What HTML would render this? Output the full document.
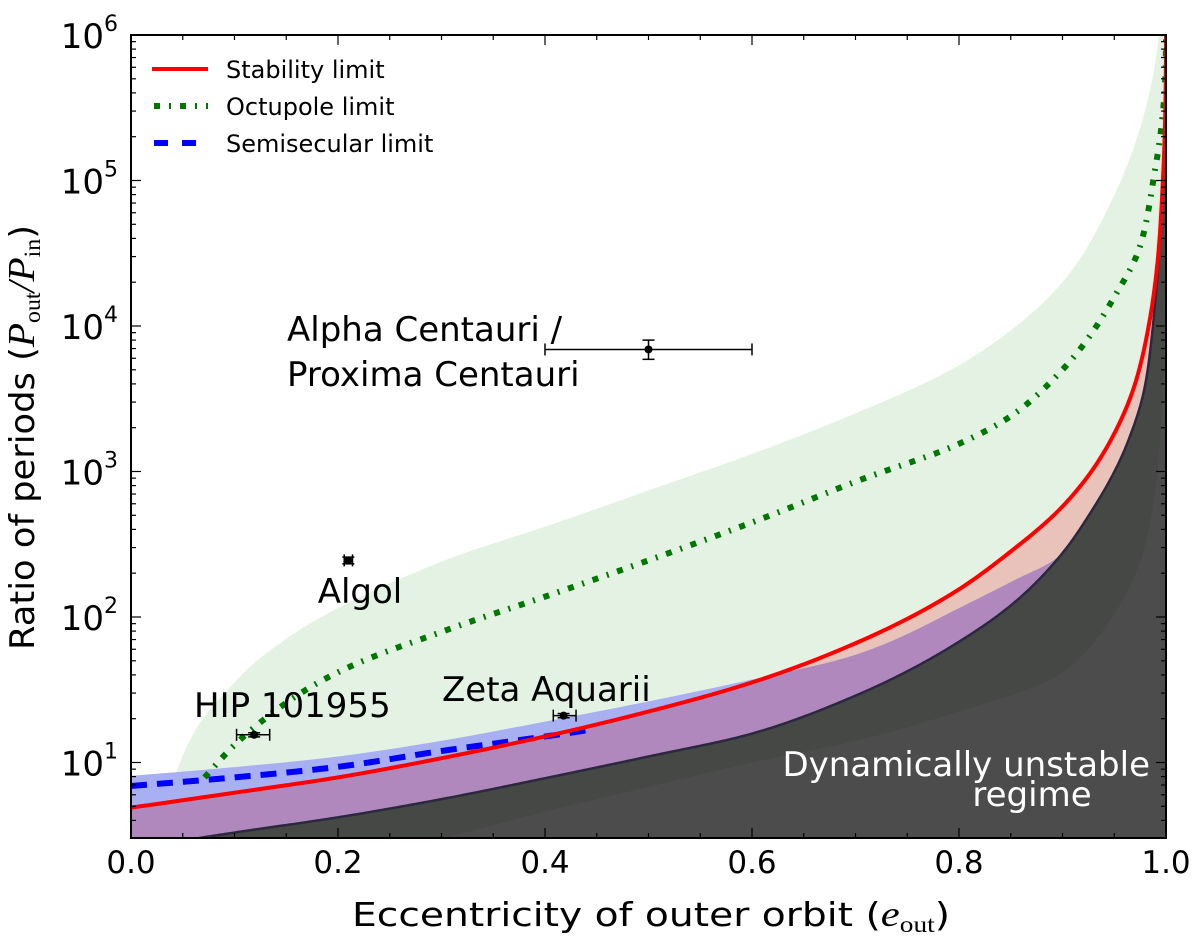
<!DOCTYPE html>
<html><head><meta charset="utf-8"><style>
body{margin:0;background:#fff}
svg{display:block}
text{font-family:"DejaVu Sans","Liberation Sans",sans-serif}
</style></head><body>
<svg id="chart" width="1200" height="945" viewBox="0 0 1200 945" xmlns="http://www.w3.org/2000/svg">
<defs><clipPath id="plotclip"><rect x="131" y="35" width="1035" height="803"/></clipPath></defs>
<g id="fills" clip-path="url(#plotclip)"></g>
<g id="lines" clip-path="url(#plotclip)"></g>
<g id="points"></g>
<g id="axes"></g>
<g>
 <line x1="152" y1="69" x2="208" y2="69" stroke="#ff0000" stroke-width="4"/>
 <text x="226" y="78" font-size="24">Stability limit</text>
 <line x1="154" y1="106" x2="208" y2="106" stroke="#007700" stroke-width="6" stroke-dasharray="6 9 2 9"/>
 <text x="226" y="115" font-size="24">Octupole limit</text>
 <line x1="154" y1="143" x2="208" y2="143" stroke="#0000ff" stroke-width="6" stroke-dasharray="14 14"/>
 <text x="226" y="152" font-size="24">Semisecular limit</text>
</g>
<g font-size="34" fill="#000">
 <text x="287" y="341">Alpha Centauri /</text>
 <text x="287" y="386">Proxima Centauri</text>
 <text x="360" y="603" text-anchor="middle">Algol</text>
 <text x="194" y="717">HIP 101955</text>
 <text x="442" y="701">Zeta Aquarii</text>
 <text x="1150" y="776" text-anchor="end" fill="#fff">Dynamically unstable</text>
 <text x="1032" y="806" text-anchor="middle" fill="#fff">regime</text>
</g>
<text x="352" y="926" font-size="33" textLength="598" lengthAdjust="spacingAndGlyphs">Eccentricity of outer orbit (<tspan font-family="Liberation Serif" font-style="italic" font-size="36">e</tspan><tspan font-size="23" dy="6" font-family="Liberation Serif">out</tspan><tspan dy="-6">)</tspan></text>
<text transform="translate(34,650) rotate(-90)" font-size="34" textLength="425" lengthAdjust="spacingAndGlyphs">Ratio of periods (<tspan font-family="Liberation Serif" font-style="italic" font-size="38">P</tspan><tspan font-size="23" dy="6" font-family="Liberation Serif">out</tspan><tspan dy="-6" font-family="Liberation Serif" font-style="italic" font-size="38">/P</tspan><tspan font-size="23" dy="6" font-family="Liberation Serif">in</tspan><tspan dy="-6">)</tspan></text>
</svg>
<script>
const redE=[0,0.1,0.2,0.3,0.4,0.5,0.6,0.7,0.8,0.85,0.9,0.93,0.95,0.97,0.984,0.992,0.997,1.0];
const redR=[4.9,6.2,7.9,10.7,15.1,22.4,35.5,66,155,282,575,1050,1820,3980,10700,28200,100000,1000000];
const darkE=[0,0.05,0.1,0.2,0.3,0.4,0.5,0.6,0.7,0.8,0.85,0.9,0.93,0.964,0.98,0.99,0.997,1.0];
const darkR=[2.5,2.9,3.3,4.2,5.6,7.8,11,15.8,28.8,67.6,120,275,562,1660,3980,15800,100000,1000000];
const blueE=[0,0.1,0.2,0.3,0.4,0.5,0.6,0.7,0.8,0.85,0.9,0.93,0.964,0.98,0.99,0.997,1.0];
const blueR=[8.1,9.3,11,14.1,19.1,26.3,37.2,55,115,174,275,562,1660,3980,15800,100000,1000000];
const semiE=[0,0.1,0.198,0.3,0.439];
const semiR=[6.9,7.9,9.3,12,16.6];
const octE=[0.071,0.1,0.15,0.2,0.3,0.4,0.5,0.6,0.7,0.8,0.85,0.9,0.95,0.975,0.99,1.0];
const octR=[7.9,13.2,25.7,41.7,79,138,245,447,851,1550,2400,5010,15800,35500,126000,1000000];
const bandE=[0.025,0.05,0.1,0.15,0.2,0.3,0.4,0.5,0.6,0.7,0.8,0.85,0.9,0.95,0.977,0.993];
const bandR=[3.0,11.2,35.5,70.8,115,240,417,741,1320,2510,5370,9330,20000,79400,257000,1000000];
const gray2E=[0.3,0.4,0.5,0.6,0.7,0.8,0.9,0.95,0.98,0.995,1.0];
const gray2R=[3.0,4.6,6.8,10,14.1,22.4,41.7,105,316,2000,1000000];
const ptNames=['alpha-centauri','algol','hip-101955','zeta-aquarii'];
const ptE=[0.5,0.21,0.119,0.418];
const ptR=[6900,245,15.5,21];
const ptELo=[0.4,0.206,0.102,0.408];
const ptEHi=[0.6,0.214,0.134,0.43];
const ptRLo=[5900,232,15.0,20.3];
const ptRHi=[8000,258,16.0,21.7];
const xTicks=[0,0.2,0.4,0.6,0.8,1.0];
const xTickLabels=['0.0','0.2','0.4','0.6','0.8','1.0'];
const yDecades=[1,2,3,4,5,6];

const X0=131,X1=1166,YB=838,YT=35,DEC=145.5;
const LMIN=6-(YB-YT)/DEC;
function sx(e){return X0+e*(X1-X0);}
function sy(r){return YT+(6-Math.log10(r))*DEC;}
function syL(L){return YT+(6-L)*DEC;}
const NS='http://www.w3.org/2000/svg';
function mk(tag,attrs,parent){const el=document.createElementNS(NS,tag);for(const k in attrs)el.setAttribute(k,attrs[k]);parent.appendChild(el);return el;}
function uOf(e){return -Math.log(1-e+1e-4);}
function interp(E,R){
 const xs=E.map(uOf),ys=R.map(r=>Math.log10(r)),n=xs.length;
 const d=[],m=new Array(n);
 for(let i=0;i<n-1;i++)d.push((ys[i+1]-ys[i])/(xs[i+1]-xs[i]));
 m[0]=d[0];m[n-1]=d[n-2];
 for(let i=1;i<n-1;i++){m[i]=(d[i-1]*d[i]<=0)?0:(d[i-1]+d[i])/2;}
 for(let i=0;i<n-1;i++){if(d[i]===0){m[i]=0;m[i+1]=0;continue;}const a=m[i]/d[i],b=m[i+1]/d[i],s=a*a+b*b;if(s>9){const t=3/Math.sqrt(s);m[i]=t*a*d[i];m[i+1]=t*b*d[i];}}
 return function(e){const u=uOf(e);let i=0;if(u<=xs[0])return ys[0];if(u>=xs[n-1])return ys[n-1];
  while(i<n-2&&u>xs[i+1])i++;const h=xs[i+1]-xs[i],t=(u-xs[i])/h,t2=t*t,t3=t2*t;
  return (2*t3-3*t2+1)*ys[i]+(t3-2*t2+t)*h*m[i]+(-2*t3+3*t2)*ys[i+1]+(t3-t2)*h*m[i+1];};
}
function sampleEs(e0,e1){const out=[];const u0=uOf(e0),u1=uOf(e1);
 for(let k=0;k<=400;k++){out.push(e0+(e1-e0)*k/400);}
 for(let k=0;k<=200;k++){const u=u0+(u1-u0)*k/200;out.push(1+1e-4-Math.exp(-u));}
 out.sort((a,b)=>a-b);return out.filter(e=>e>=e0&&e<=e1);}
function curve(E,R){const f=interp(E,R);return sampleEs(E[0],E[E.length-1]).map(e=>[sx(e),syL(f(e))]);}
function curveMin(E,R,E2,R2){const f=interp(E,R),g=interp(E2,R2);return sampleEs(E[0],E[E.length-1]).map(e=>[sx(e),syL(Math.min(f(e),g(e)))]);}
function poly(P){return 'M'+P.map(p=>p[0].toFixed(2)+','+p[1].toFixed(2)).join('L');}
function area(P){const last=P[P.length-1],first=P[0];return poly(P)+'L'+(X1+10)+','+last[1].toFixed(2)+'L'+(X1+10)+','+(YB+10)+'L'+first[0].toFixed(2)+','+(YB+10)+'Z';}
const fills=document.getElementById('fills'),lines=document.getElementById('lines'),pg=document.getElementById('points'),ax=document.getElementById('axes');

let el;
el=mk('path',{d:area(curve(bandE,bandR)),fill:'#e4f2e4'},fills);


el=mk('path',{d:area(curve(redE,redR)),fill:'#e9c3b9'},fills);


el=mk('path',{d:area(curve(blueE,blueR)),fill:'#a9b0f2'},fills);


el=mk('path',{d:area(curveMin(blueE,blueR,redE,redR)),fill:'#b188bd'},fills);


el=mk('path',{d:area(curve(darkE,darkR)),fill:'#454845',stroke:'#2c2840',"stroke-width":2.5},fills);


el=mk('path',{d:area(curve(gray2E,gray2R)),fill:'#4c4c4c'},fills);



el=mk('path',{d:poly(curve(octE,octR)),fill:'none',stroke:'#007700','stroke-width':6,'stroke-dasharray':'6 9 2 9'},lines);


el=mk('path',{d:poly(curve(semiE,semiR)),fill:'none',stroke:'#0000ff','stroke-width':6,'stroke-dasharray':'16 10'},lines);


el=mk('path',{d:poly(curve(redE,redR)),fill:'none',stroke:'#ff0000','stroke-width':4},lines);



for(let i=0;i<ptE.length;i++){
 const g=mk('g',{},pg);
 
 
 const x=sx(ptE[i]),y=sy(ptR[i]),xl=sx(ptELo[i]),xh=sx(ptEHi[i]),yl=sy(ptRLo[i]),yh=sy(ptRHi[i]);
 mk('line',{x1:xl,y1:y,x2:xh,y2:y,stroke:'#000','stroke-width':1.5},g);
 mk('line',{x1:xl,y1:y-6,x2:xl,y2:y+6,stroke:'#000','stroke-width':1.5},g);
 mk('line',{x1:xh,y1:y-6,x2:xh,y2:y+6,stroke:'#000','stroke-width':1.5},g);
 mk('line',{x1:x,y1:yl,x2:x,y2:yh,stroke:'#000','stroke-width':1.5},g);
 mk('line',{x1:x-6,y1:yl,x2:x+6,y2:yl,stroke:'#000','stroke-width':1.5},g);
 mk('line',{x1:x-6,y1:yh,x2:x+6,y2:yh,stroke:'#000','stroke-width':1.5},g);
 mk('circle',{cx:x,cy:y,r:4,fill:'#000'},g);
}

el=mk('rect',{x:X0,y:YT,width:X1-X0,height:YB-YT,fill:'none',stroke:'#000','stroke-width':2},ax);


for(let k=0;k<=20;k++){const e=k*0.05,x=sx(e),len=(k%4===0)?10:5;
 mk('line',{x1:x,y1:YB,x2:x,y2:YB-len,stroke:'#000','stroke-width':1.2},ax);
 mk('line',{x1:x,y1:YT,x2:x,y2:YT+len,stroke:'#000','stroke-width':1.2},ax);}
xTicks.forEach((e,i)=>{const t=mk('text',{x:sx(e),y:873,'font-size':31,'text-anchor':'middle'},ax);t.textContent=xTickLabels[i];
 
 });
for(let d=0;d<=5;d++){for(let m=1;m<10;m++){const r=Math.pow(10,d)*m;if(r<Math.pow(10,LMIN)||r>1e6)continue;const y=sy(r),len=m===1?10:5;
 mk('line',{x1:X0,y1:y,x2:X0+len,y2:y,stroke:'#000','stroke-width':1.2},ax);
 mk('line',{x1:X1,y1:y,x2:X1-len,y2:y,stroke:'#000','stroke-width':1.2},ax);}}
mk('line',{x1:X0,y1:YT,x2:X0+10,y2:YT,stroke:'#000','stroke-width':1.2},ax);
yDecades.forEach(d=>{const t=mk('text',{x:118,y:sy(Math.pow(10,d))+13,'font-size':34,'text-anchor':'end'},ax);
 
 
 t.textContent='10';const s=mk('tspan',{'font-size':22,dy:-17},t);s.textContent=String(d);});
</script>
</body></html>
